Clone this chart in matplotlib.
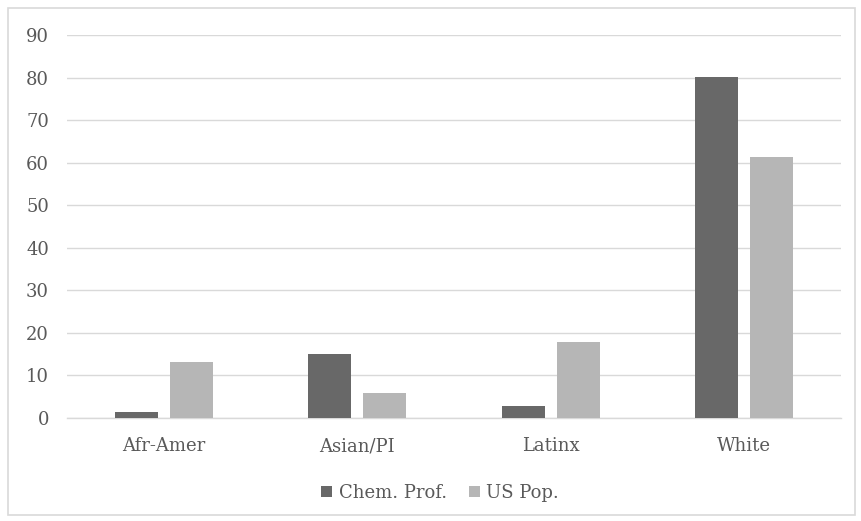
import matplotlib
matplotlib.use("Agg")
import matplotlib.pyplot as plt
from matplotlib.patches import Rectangle
import numpy as np

categories = ["Afr-Amer", "Asian/PI", "Latinx", "White"]
chem_prof = [1.4, 15.0, 2.9, 80.2]
us_pop = [13.2, 5.8, 17.8, 61.3]
series_names = ["Chem. Prof.", "US Pop."]
y_ticks = [0, 10, 20, 30, 40, 50, 60, 70, 80, 90]

W, H = 861, 521
plt.rcParams["font.family"] = ["DejaVu Serif"]
text_color = "#595959"
grid_color = "#d9d9d9"
dark = "#686868"
light = "#b6b6b6"

fig = plt.figure(figsize=(W / 100, H / 100), dpi=100)
fig.patch.set_facecolor("white")

# chart frame
fig.add_artist(Rectangle((8 / W, 1 - 515 / H), 847 / W, 507 / H,
                         transform=fig.transFigure, fill=False,
                         edgecolor=grid_color, linewidth=1.2))

ax = fig.add_axes([67 / W, 1 - 418 / H, 774 / W, (418 - 35) / H])
x = np.arange(len(categories))
bw = 0.222
off = 0.142
ax.bar(x - off, chem_prof, width=bw, color=dark, zorder=3, label=series_names[0])
ax.bar(x + off, us_pop, width=bw, color=light, zorder=3, label=series_names[1])

ax.set_xlim(-0.5, len(categories) - 0.5)
ax.set_ylim(0, 90)
ax.set_yticks(y_ticks)
ax.yaxis.grid(True, color=grid_color, linewidth=1.0, zorder=0)
ax.set_axisbelow(True)
for s in ["top", "right", "left"]:
    ax.spines[s].set_visible(False)
ax.spines["bottom"].set_color(grid_color)
ax.spines["bottom"].set_linewidth(1.0)
ax.set_xticks(x)
ax.set_xticklabels(categories)
ax.tick_params(axis="both", length=0, labelsize=13, colors=text_color)
ax.tick_params(axis="y", pad=13)
ax.tick_params(axis="x", pad=14)

handles, labels = ax.get_legend_handles_labels()
fig.legend(handles, labels, loc="center", bbox_to_anchor=(440 / W, 1 - 493 / H),
           ncol=2, frameon=False, fontsize=13, labelcolor=text_color,
           handlelength=0.62, handleheight=0.62, handletextpad=0.35, columnspacing=1.2)

fig.savefig("out.png", dpi=100, facecolor="white")
